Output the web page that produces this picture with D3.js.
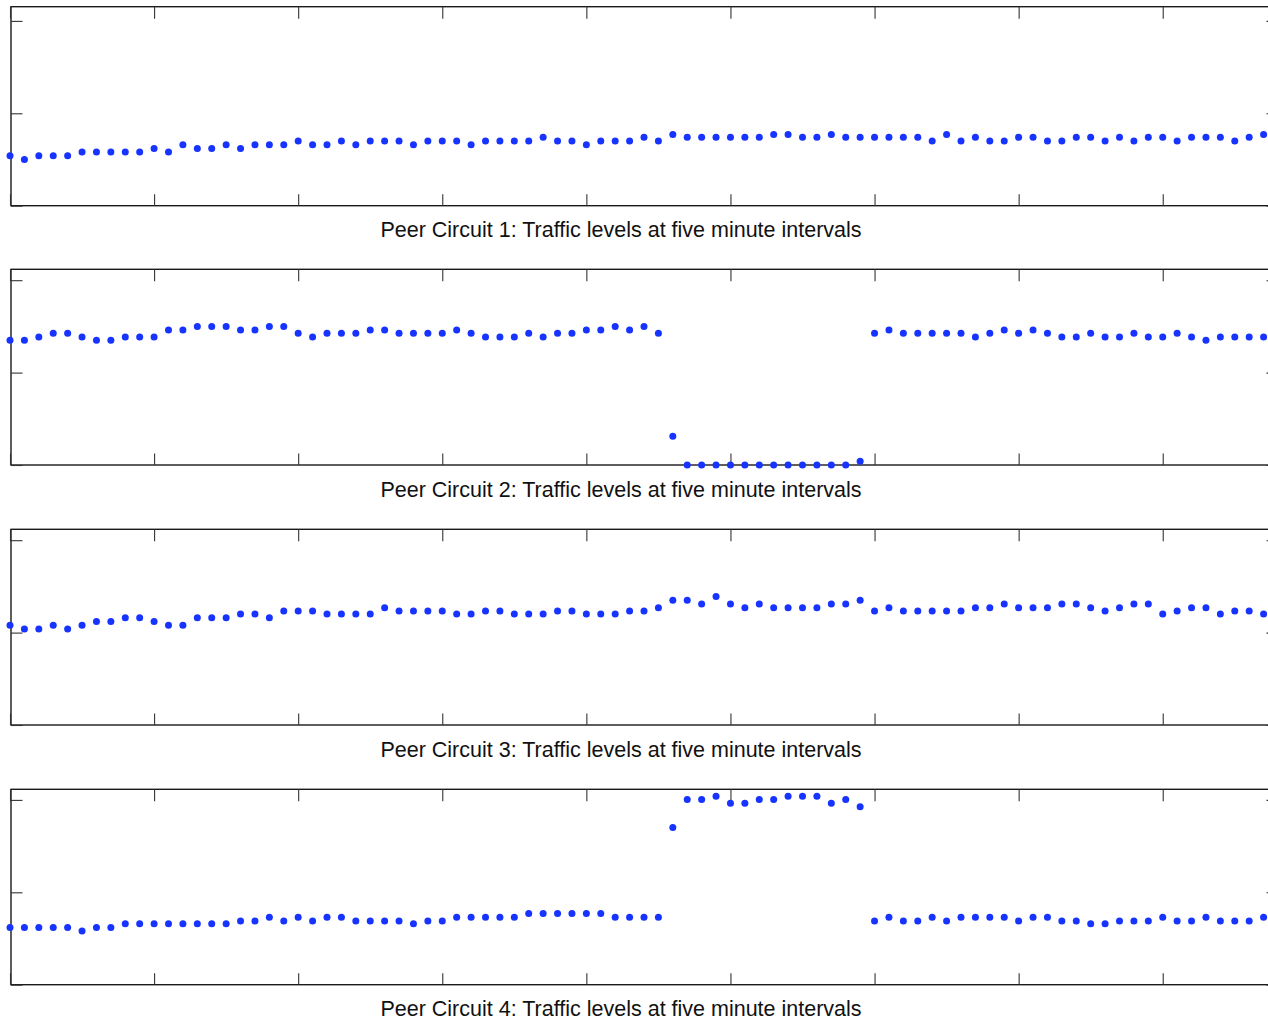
<!DOCTYPE html>
<html>
<head>
<meta charset="utf-8">
<script src="https://cdn.jsdelivr.net/npm/d3@7"></script>
<style>
  html, body { margin: 0; padding: 0; background: #fff; }
  svg { display: block; }
  .frame { fill: none; stroke: #1a1a1a; stroke-width: 1.4; }
  .tick line { stroke: #333; stroke-width: 1.1; }
  .title { font-family: "Liberation Sans", Arial, Helvetica, sans-serif; font-size: 21.5px; fill: #111; }
</style>
</head>
<body>
<div id="chart"></div>
<script>
// traffic levels sampled every five minutes (88 samples per circuit)
const circuit1 = [
  0.54, 0.50, 0.54, 0.54, 0.54, 0.58, 0.58, 0.58, 0.58, 0.58,
  0.62, 0.58, 0.66, 0.62, 0.62, 0.66, 0.62, 0.66, 0.66, 0.66,
  0.70, 0.66, 0.66, 0.70, 0.66, 0.70, 0.70, 0.70, 0.66, 0.70,
  0.70, 0.70, 0.66, 0.70, 0.70, 0.70, 0.70, 0.74, 0.70, 0.70,
  0.66, 0.70, 0.70, 0.70, 0.74, 0.70, 0.77, 0.74, 0.74, 0.74,
  0.74, 0.74, 0.74, 0.77, 0.77, 0.74, 0.74, 0.77, 0.74, 0.74,
  0.74, 0.74, 0.74, 0.74, 0.70, 0.77, 0.70, 0.74, 0.70, 0.70,
  0.74, 0.74, 0.70, 0.70, 0.74, 0.74, 0.70, 0.74, 0.70, 0.74,
  0.74, 0.70, 0.74, 0.74, 0.74, 0.70, 0.74, 0.77
];
const circuit2 = [
  1.35, 1.35, 1.385, 1.425, 1.425, 1.385, 1.35, 1.35, 1.385, 1.385,
  1.385, 1.46, 1.46, 1.50, 1.50, 1.50, 1.46, 1.46, 1.50, 1.50,
  1.425, 1.385, 1.425, 1.425, 1.425, 1.46, 1.46, 1.425, 1.425, 1.425,
  1.425, 1.46, 1.425, 1.385, 1.385, 1.385, 1.425, 1.385, 1.425, 1.425,
  1.46, 1.46, 1.50, 1.46, 1.50, 1.425, 0.31, 0, 0, 0,
  0, 0, 0, 0, 0, 0, 0, 0, 0, 0.04,
  1.425, 1.46, 1.425, 1.425, 1.425, 1.425, 1.425, 1.385, 1.425, 1.46,
  1.425, 1.46, 1.425, 1.385, 1.385, 1.425, 1.385, 1.385, 1.425, 1.385,
  1.385, 1.425, 1.385, 1.35, 1.385, 1.385, 1.385, 1.385
];
const circuit3 = [
  1.08, 1.04, 1.04, 1.08, 1.04, 1.08, 1.12, 1.12, 1.16, 1.16,
  1.12, 1.08, 1.08, 1.16, 1.16, 1.16, 1.20, 1.20, 1.16, 1.235,
  1.235, 1.235, 1.20, 1.20, 1.20, 1.20, 1.27, 1.235, 1.235, 1.235,
  1.235, 1.20, 1.20, 1.235, 1.235, 1.20, 1.20, 1.20, 1.235, 1.235,
  1.20, 1.20, 1.20, 1.235, 1.235, 1.27, 1.35, 1.35, 1.31, 1.39,
  1.31, 1.27, 1.31, 1.27, 1.27, 1.27, 1.27, 1.31, 1.31, 1.35,
  1.235, 1.27, 1.235, 1.235, 1.235, 1.235, 1.235, 1.27, 1.27, 1.31,
  1.27, 1.27, 1.27, 1.31, 1.31, 1.27, 1.235, 1.27, 1.31, 1.31,
  1.20, 1.235, 1.27, 1.27, 1.20, 1.235, 1.235, 1.20
];
const circuit4 = [
  0.62, 0.62, 0.62, 0.62, 0.62, 0.58, 0.62, 0.62, 0.66, 0.66,
  0.66, 0.66, 0.66, 0.66, 0.66, 0.66, 0.69, 0.69, 0.73, 0.69,
  0.73, 0.69, 0.73, 0.73, 0.69, 0.69, 0.69, 0.69, 0.66, 0.69,
  0.69, 0.73, 0.73, 0.73, 0.73, 0.73, 0.77, 0.77, 0.77, 0.77,
  0.77, 0.77, 0.73, 0.73, 0.73, 0.73, 1.70, 2.005, 2.005, 2.04,
  1.965, 1.965, 2.005, 2.005, 2.04, 2.04, 2.04, 1.965, 2.005, 1.925,
  0.69, 0.73, 0.69, 0.69, 0.73, 0.69, 0.73, 0.73, 0.73, 0.73,
  0.69, 0.73, 0.73, 0.69, 0.69, 0.66, 0.66, 0.69, 0.69, 0.69,
  0.73, 0.69, 0.69, 0.73, 0.69, 0.69, 0.69, 0.73
];

const series = [circuit1, circuit2, circuit3, circuit4];
const titles = [
  "Peer Circuit 1: Traffic levels at five minute intervals",
  "Peer Circuit 2: Traffic levels at five minute intervals",
  "Peer Circuit 3: Traffic levels at five minute intervals",
  "Peer Circuit 4: Traffic levels at five minute intervals"
];
const xTicks = [0, 10, 20, 30, 40, 50, 60, 70, 80];
const yTicks = [0, 1, 2];

const W = 1268, H = 1021;
// panel frames (top / bottom in px); x frame runs a little past the window edge
const panels = [
  { top: 6.7, bottom: 205.7 },
  { top: 269.3, bottom: 465 },
  { top: 529.3, bottom: 725 },
  { top: 789.3, bottom: 984.7 }
];
const left = 11, right = 1278;
const pxPerUnit = 92.4;
const titleX = 621, titleGap = 31.5;
const dotColor = "#1733ff";

const svg = d3.select("#chart").append("svg")
  .attr("width", W)
  .attr("height", H);

const x = d3.scaleLinear().domain([0, 88]).range([left - 1, right]);

series.forEach((vals, i) => {
  const p = panels[i];
  const y = d3.scaleLinear()
    .domain([0, 2])
    .range([p.bottom, p.bottom - 2 * pxPerUnit]);

  const g = svg.append("g").attr("class", "panel");

  g.append("rect")
    .attr("class", "frame")
    .attr("x", left)
    .attr("y", p.top)
    .attr("width", right - left)
    .attr("height", p.bottom - p.top);

  // ticks point inwards on all four sides, no labels
  g.append("g")
    .attr("transform", `translate(0,${p.bottom})`)
    .call(d3.axisBottom(x).tickValues(xTicks).tickSize(-11.5).tickFormat(""))
    .call(a => a.select(".domain").remove());

  g.append("g")
    .attr("transform", `translate(0,${p.top})`)
    .call(d3.axisTop(x).tickValues(xTicks).tickSize(-12).tickFormat(""))
    .call(a => a.select(".domain").remove());

  g.append("g")
    .attr("transform", `translate(${left},0)`)
    .call(d3.axisLeft(y).tickValues(yTicks).tickSize(-11.5).tickFormat(""))
    .call(a => a.select(".domain").remove());

  g.append("g")
    .attr("transform", `translate(${right},0)`)
    .call(d3.axisRight(y).tickValues(yTicks).tickSize(-11.5).tickFormat(""))
    .call(a => a.select(".domain").remove());

  g.append("g")
    .selectAll("circle")
    .data(vals)
    .join("circle")
    .attr("cx", (d, j) => x(j))
    .attr("cy", d => y(d))
    .attr("r", 3.5)
    .attr("fill", dotColor);

  g.append("text")
    .attr("class", "title")
    .attr("x", titleX)
    .attr("y", p.bottom + titleGap)
    .attr("text-anchor", "middle")
    .text(titles[i]);
});
</script>
</body>
</html>
